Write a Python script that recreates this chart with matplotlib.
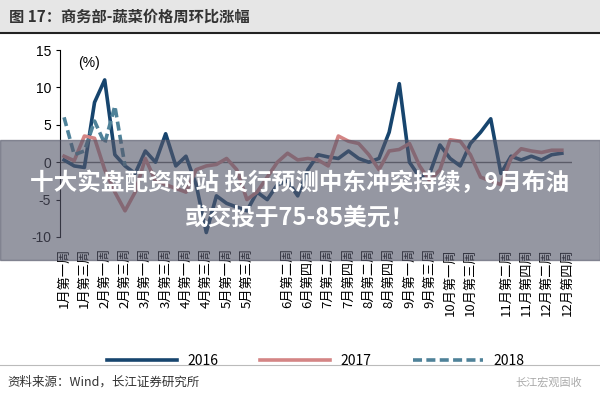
import matplotlib
matplotlib.use("Agg")
import matplotlib.pyplot as plt
from matplotlib.patches import Rectangle
from matplotlib.lines import Line2D

plt.rcParams["font.family"] = ["Noto Sans CJK SC", "DejaVu Sans"]

weeks = list(range(50))
v2016 = [0.3, -0.5, -0.7, 8, 11, 1, -0.5, -1.5, 1.5, 0, 3.8, -0.5, 0.8, -3, -9.4, -4.5, -5.5, -6, -6.5, -4,
         -5, -3, -2.5, -4.5, -1, 1, 0.7, 0.5, 1.5, 0.5, 0, 0.5, 4, 10.5, 0, -2, -1.5, 2.3, 0.5, -0.5,
         2.5, 4, 5.8, -1.5, 0.8, 0.3, 0.8, 0.3, 1, 1.2]
v2017 = [0.8, 0.2, 3.5, 3.2, -1, -4, -6.5, -4, 0.5, -2.5, -3, -3.5, -4, -1, -0.5, -0.3, 0.5, -1, -5, -4,
         -2, 0, 1.2, 0.3, 0.5, 0.3, -0.5, 3.5, 2.8, 2.5, 1, -1, 1.5, 1.7, 2.5, -0.5, -2.5, -1, 3, 2.8,
         1, -2, -2.5, -3, 0.5, 1.8, 1.5, 1.3, 1.6, 1.6]
weeks2018 = [0, 1, 2, 3, 4, 5, 6]
v2018 = [6, 1, 1.5, 5.5, 2.5, 7.5, -0.5]

tick_pos = [0, 2, 4, 6, 8, 10, 12, 14, 16, 18, 22, 24, 26, 28, 30, 32, 34, 36, 38, 40, 43.5, 45.5, 47.5, 49.5]
tick_labels = ["1月第一周", "1月第三周", "2月第一周", "2月第三周", "3月第一周", "3月第三周", "4月第一周", "4月第三周",
               "5月第一周", "5月第三周", "6月第二周", "6月第四周", "7月第二周", "7月第四周", "8月第二周", "8月第四周",
               "9月第一周", "9月第三周", "10月第一周", "10月第三周", "11月第二周", "11月第四周", "12月第二周", "12月第四周"]
yticks = [-10, -5, 0, 5, 10, 15]

fig = plt.figure(figsize=(6, 4), dpi=100)
fig.patch.set_facecolor("white")
fig.patches.append(Rectangle((0, 368/400), 1, 32/400, transform=fig.transFigure, color="#e6e6e6", zorder=0))
fig.add_artist(Line2D([0, 1], [367/400, 367/400], color="#222222", lw=1.5))
fig.text(0.015, 0.958, "图 17：商务部-蔬菜价格周环比涨幅", fontsize=11, fontweight="bold", color="#333333", va="center")

ax = fig.add_axes([60/600, 163/400, 512/600, 187/400])
ax.plot(weeks, v2016, color="#17456e", lw=2.6, label="2016")
ax.plot(weeks, v2017, color="#d48585", lw=2.6, label="2017")
ax.plot(weeks2018, v2018, color="#4f8299", lw=2.6, ls=(0, (2.5, 1.2)), label="2018")
ax.axhline(0, color="#666666", lw=1, zorder=0)
ax.set_ylim(-10, 15)
ax.set_xlim(-0.4, 50)
ax.set_yticks(yticks)
ax.set_yticklabels([str(t) for t in yticks], fontsize=10, fontfamily="Liberation Sans")
ax.set_xticks(tick_pos)
ax.set_xticklabels(tick_labels, rotation=90, fontsize=9.5)
ax.tick_params(axis="x", length=0, pad=8)
ax.tick_params(axis="y", length=3, direction="out")
for s in ["top", "right", "bottom"]:
    ax.spines[s].set_visible(False)
ax.text(0.035, 0.97, "(%)", transform=ax.transAxes, fontsize=10, va="top", fontfamily="Liberation Sans")
ax.legend(loc="upper center", bbox_to_anchor=(0.5, -0.56), ncol=3, frameon=False, fontsize=10,
          handlelength=5, columnspacing=3)

fig.add_artist(Line2D([0, 1], [35/400, 35/400], color="#bbbbbb", lw=0.8))
fig.text(0.013, 0.045, "资料来源：Wind，长江证券研究所", fontsize=9, color="#333333", va="center")
fig.text(0.97, 0.045, "长江宏观固收", fontsize=8, color="#aaaaaa", va="center", ha="right")

fig.patches.append(Rectangle((0, 140/400), 1, 120/400, transform=fig.transFigure, color="#55576a", alpha=0.62, zorder=10))
fig.text(0.5, 217/400, "十大实盘配资网站 投行预测中东冲突持续，9月布油", fontsize=17, fontweight="bold",
         color="white", ha="center", va="center", zorder=11)
fig.text(0.5, 182/400, "或交投于75-85美元！", fontsize=17, fontweight="bold",
         color="white", ha="center", va="center", zorder=11)

fig.savefig("out.png", dpi=100)
